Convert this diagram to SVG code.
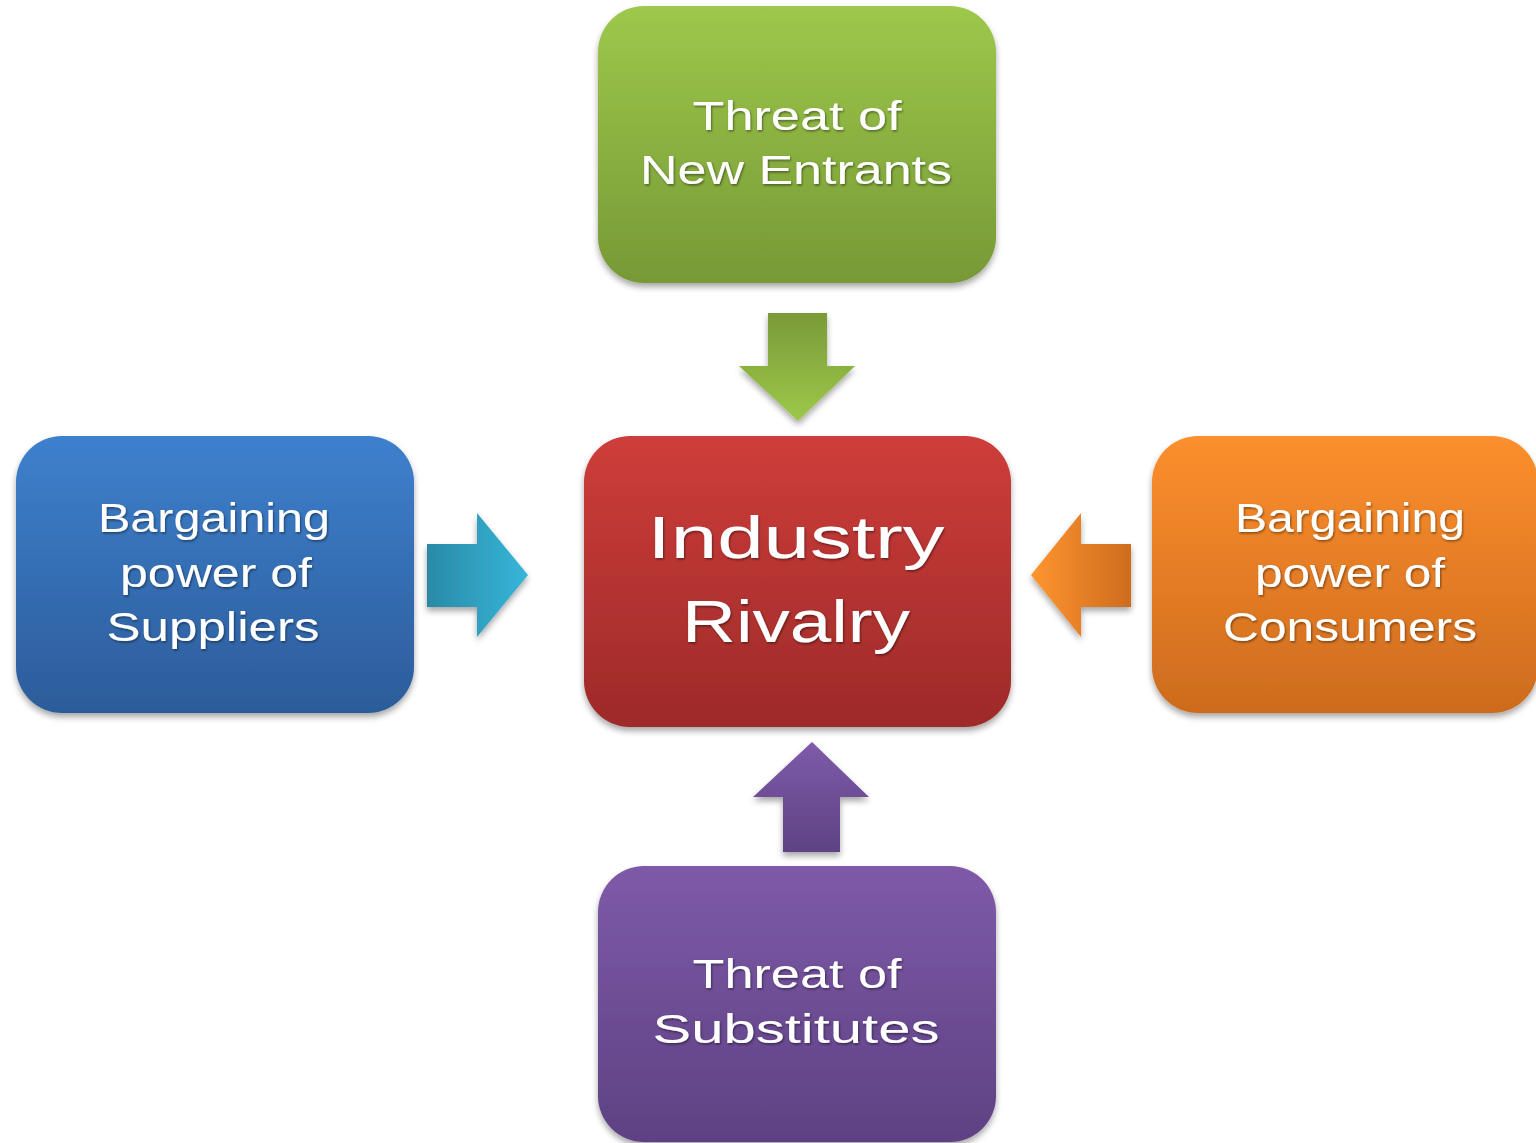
<svg xmlns="http://www.w3.org/2000/svg" width="1536" height="1143" viewBox="0 0 1536 1143">
<defs>
<linearGradient id="gGreen" x1="0" y1="0" x2="0" y2="1"><stop offset="0" stop-color="#9DC84B"/><stop offset="1" stop-color="#779936"/></linearGradient>
<linearGradient id="gBlue" x1="0" y1="0" x2="0" y2="1"><stop offset="0" stop-color="#3E80CD"/><stop offset="1" stop-color="#2C5C9A"/></linearGradient>
<linearGradient id="gRed" x1="0" y1="0" x2="0" y2="1"><stop offset="0" stop-color="#CE3D3A"/><stop offset="1" stop-color="#9D2A29"/></linearGradient>
<linearGradient id="gOrange" x1="0" y1="0" x2="0" y2="1"><stop offset="0" stop-color="#FC8F2D"/><stop offset="1" stop-color="#CD6B1E"/></linearGradient>
<linearGradient id="gPurple" x1="0" y1="0" x2="0" y2="1"><stop offset="0" stop-color="#7E5AA8"/><stop offset="1" stop-color="#5E4183"/></linearGradient>
<linearGradient id="aGreen" x1="0" y1="0" x2="0" y2="1"><stop offset="0" stop-color="#7A9A38"/><stop offset="1" stop-color="#9DC84A"/></linearGradient>
<linearGradient id="aBlue" x1="0" y1="0" x2="1" y2="0"><stop offset="0" stop-color="#2A8AA6"/><stop offset="1" stop-color="#36B6DA"/></linearGradient>
<linearGradient id="aOrange" x1="0" y1="0" x2="1" y2="0"><stop offset="0" stop-color="#FD9530"/><stop offset="1" stop-color="#CE6C1E"/></linearGradient>
<linearGradient id="aPurple" x1="0" y1="0" x2="0" y2="1"><stop offset="0" stop-color="#7E5BA9"/><stop offset="1" stop-color="#5E4284"/></linearGradient>
<filter id="sh" x="-10%" y="-10%" width="120%" height="125%"><feDropShadow dx="0" dy="4" stdDeviation="3" flood-color="#000" flood-opacity="0.35"/></filter>
<filter id="tsh" x="-5%" y="-20%" width="110%" height="140%"><feDropShadow dx="1" dy="1.5" stdDeviation="1" flood-color="#000" flood-opacity="0.45"/></filter>
</defs>
<style>
.lbl{font-family:"Liberation Sans","DejaVu Sans",sans-serif;font-size:40px;fill:#ffffff;text-anchor:middle;}
.big{font-size:60px;}
</style>
<rect width="1536" height="1143" fill="#ffffff"/>
<g id="connectors">
<polygon points="768,313 827,313 827,366 855,366 798,421 739,366 768,366" fill="url(#aGreen)" filter="url(#sh)"/>
<polygon points="427,544 477,544 477,513 528,575 477,637 477,607 427,607" fill="url(#aBlue)" filter="url(#sh)"/>
<polygon points="1131,544 1081,544 1081,513 1031,575 1081,637 1081,607 1131,607" fill="url(#aOrange)" filter="url(#sh)"/>
<polygon points="812,742 869,797 840,797 840,852 783,852 783,797 753,797" fill="url(#aPurple)" filter="url(#sh)"/>
</g>
<g id="node-new-entrants">
<rect x="598" y="6" width="398" height="277" rx="46" fill="url(#gGreen)" filter="url(#sh)"/>
<text class="lbl" x="797" y="130" textLength="209" lengthAdjust="spacingAndGlyphs" filter="url(#tsh)">Threat of</text>
<text class="lbl" x="796" y="184" textLength="312" lengthAdjust="spacingAndGlyphs" filter="url(#tsh)">New Entrants</text>
</g>
<g id="node-suppliers">
<rect x="16" y="436" width="398" height="277" rx="46" fill="url(#gBlue)" filter="url(#sh)"/>
<text class="lbl" x="214" y="532" textLength="232" lengthAdjust="spacingAndGlyphs" filter="url(#tsh)">Bargaining</text>
<text class="lbl" x="216" y="587" textLength="192" lengthAdjust="spacingAndGlyphs" filter="url(#tsh)">power of</text>
<text class="lbl" x="213" y="641" textLength="213" lengthAdjust="spacingAndGlyphs" filter="url(#tsh)">Suppliers</text>
</g>
<g id="node-rivalry">
<rect x="584" y="436" width="427" height="291" rx="46" fill="url(#gRed)" filter="url(#sh)"/>
<text class="lbl big" x="796" y="558" textLength="297" lengthAdjust="spacingAndGlyphs" filter="url(#tsh)">Industry</text>
<text class="lbl big" x="796" y="642" textLength="228" lengthAdjust="spacingAndGlyphs" filter="url(#tsh)">Rivalry</text>
</g>
<g id="node-consumers">
<rect x="1152" y="436" width="386" height="277" rx="46" fill="url(#gOrange)" filter="url(#sh)"/>
<text class="lbl" x="1350" y="532" textLength="230" lengthAdjust="spacingAndGlyphs" filter="url(#tsh)">Bargaining</text>
<text class="lbl" x="1350" y="587" textLength="190" lengthAdjust="spacingAndGlyphs" filter="url(#tsh)">power of</text>
<text class="lbl" x="1350" y="641" textLength="254" lengthAdjust="spacingAndGlyphs" filter="url(#tsh)">Consumers</text>
</g>
<g id="node-substitutes">
<rect x="598" y="866" width="398" height="276" rx="46" fill="url(#gPurple)" filter="url(#sh)"/>
<text class="lbl" x="797" y="988" textLength="209" lengthAdjust="spacingAndGlyphs" filter="url(#tsh)">Threat of</text>
<text class="lbl" x="796" y="1043" textLength="287" lengthAdjust="spacingAndGlyphs" filter="url(#tsh)">Substitutes</text>
</g>
</svg>
